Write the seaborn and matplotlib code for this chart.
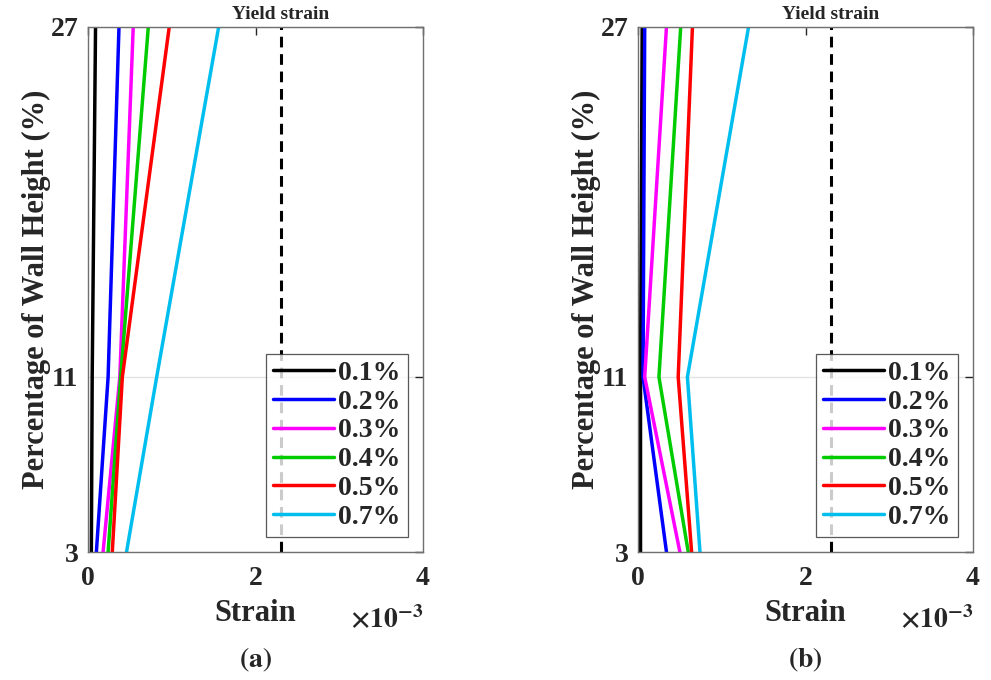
import numpy as np
import pandas as pd
import matplotlib
matplotlib.use("Agg")
import matplotlib.pyplot as plt
import seaborn as sns

# ---- data (strain in units of 1e-3) ----
heights = [3, 11, 27]
drifts = ["0.1%", "0.2%", "0.3%", "0.4%", "0.5%", "0.7%"]
strain_a_01 = [0.04, 0.05, 0.09]
strain_a_02 = [0.10, 0.24, 0.37]
strain_a_03 = [0.18, 0.38, 0.54]
strain_a_04 = [0.24, 0.39, 0.72]
strain_a_05 = [0.29, 0.41, 0.97]
strain_a_07 = [0.46, 0.82, 1.56]
strain_b_01 = [0.03, 0.03, 0.05]
strain_b_02 = [0.34, 0.06, 0.08]
strain_b_03 = [0.50, 0.08, 0.34]
strain_b_04 = [0.60, 0.25, 0.51]
strain_b_05 = [0.64, 0.48, 0.65]
strain_b_07 = [0.74, 0.59, 1.32]
yield_strain = 2.3
panel_labels = ["a", "b"]

series_a = [strain_a_01, strain_a_02, strain_a_03, strain_a_04, strain_a_05, strain_a_07]
series_b = [strain_b_01, strain_b_02, strain_b_03, strain_b_04, strain_b_05, strain_b_07]

def make_df(series):
    rows = []
    for d, vals in zip(drifts, series):
        for h, v in zip(heights, vals):
            rows.append({"Drift": d, "Height": h, "Strain": v})
    return pd.DataFrame(rows)

colors = ["#000000", "#0000ff", "#ff00ff", "#00cc00", "#ff0000", "#00bfef"]

sns.set_theme(style="white")
plt.rcParams["font.family"] = ["Liberation Serif", "DejaVu Serif"]
plt.rcParams["font.weight"] = "bold"
plt.rcParams["mathtext.fontset"] = "stix"

fig = plt.figure(figsize=(9.91, 6.80), dpi=100)
lefts = [88 / 991, 638 / 991]
W = 335 / 991
B = (680 - 552) / 680
H = 525 / 680

for i, (series, lab) in enumerate(zip([series_a, series_b], panel_labels)):
    ax = fig.add_axes([lefts[i], B, W, H])
    df = make_df(series)
    sns.lineplot(data=df, x="Strain", y="Height", hue="Drift", palette=colors,
                 sort=False, estimator=None, linewidth=2.5, ax=ax)
    ax.axvline(yield_strain, color="black", linestyle=(0, (3.5, 2.2)), linewidth=2.2)
    ax.set_xlim(0, 4)
    ax.set_ylim(3, 27)
    ax.set_xticks([0, 2, 4])
    ax.set_yticks(heights)
    ax.set_xticklabels(["0", "2", "4"], fontsize=20, fontweight="bold")
    ax.set_yticklabels([str(h) for h in heights], fontsize=20, fontweight="bold")
    ax.yaxis.grid(True, color="#e3e3e3", linewidth=1.0)
    ax.xaxis.grid(False)
    ax.set_axisbelow(True)
    ax.tick_params(direction="in", top=True, right=True, length=6, width=1.0,
                   color="#262626")
    ax.tick_params(axis="x", pad=10)
    ax.tick_params(axis="y", pad=7)
    for s in ax.spines.values():
        s.set_color("#707070")
        s.set_linewidth(1.0)
    ax.set_xlabel("Strain", fontsize=22, fontweight="bold", labelpad=6)
    ax.set_ylabel("Percentage of Wall Height (%)", fontsize=22, fontweight="bold", labelpad=0)
    ax.text(4.0, -0.13, r"$\times\mathbf{10}^{\mathbf{-3}}$", transform=ax.get_xaxis_transform(),
            ha="right", va="center", fontsize=20, color="#262626")
    ax.text(yield_strain, 1.008, "Yield strain", transform=ax.get_xaxis_transform(),
            ha="center", va="bottom", fontsize=14, fontweight="bold")
    leg = ax.legend(loc="lower right", prop={"size": 20, "weight": "bold"},
                    handlelength=2.2, handletextpad=0.15, labelspacing=0.12,
                    borderpad=0.25, borderaxespad=0.55, frameon=True, fancybox=False,
                    title=None)
    leg.get_frame().set_edgecolor("#303030")
    leg.get_frame().set_linewidth(0.9)
    for line in leg.get_lines():
        line.set_linewidth(2.5)
    ax.text(0.5, -0.205, r"$\mathrm{(}\mathbf{%s}\mathrm{)}$" % lab, transform=ax.transAxes,
            ha="center", va="center", fontsize=20)

fig.savefig("out.png", dpi=100)
